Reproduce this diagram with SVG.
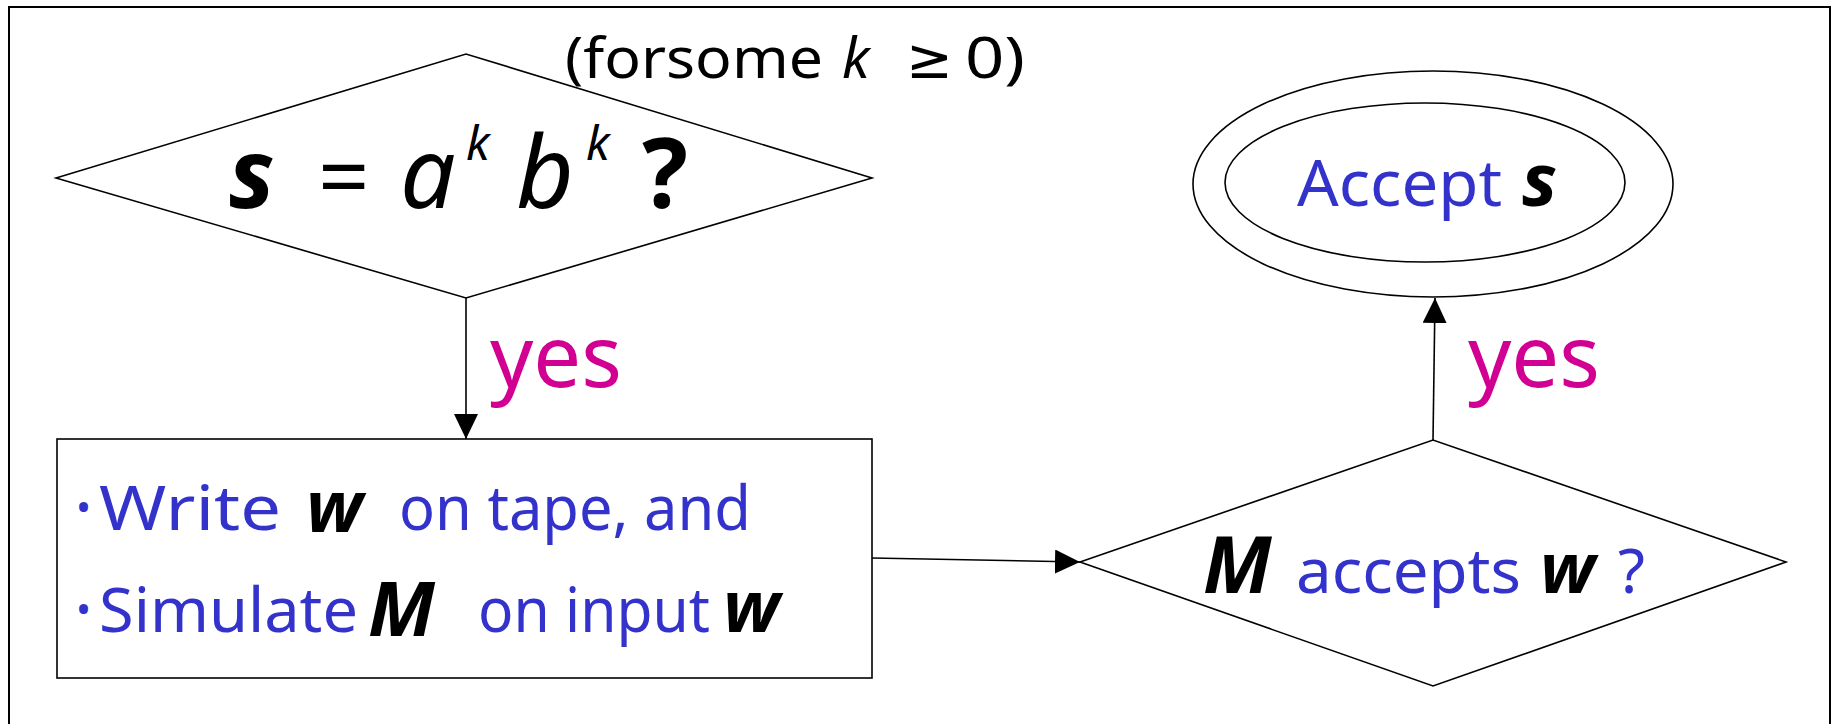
<svg xmlns="http://www.w3.org/2000/svg" width="1839" height="724" viewBox="0 0 1839 724">
<style>
.shape{fill:#fff;stroke:#000;stroke-width:1.6}
.edge{fill:none;stroke:#000;stroke-width:1.6}
.t{font-family:"Noto Sans","DejaVu Sans",sans-serif}
.blue{fill:#3333CC}
.mag{fill:#D10092}
.var{font-style:italic;font-weight:bold;fill:#000}
.ivar{font-style:italic;font-weight:normal;fill:#000}
</style>
<defs>
<marker id="arr" markerUnits="userSpaceOnUse" markerWidth="26" markerHeight="26" refX="25" refY="12" orient="auto">
<path d="M0,0 L25,12 L0,24 Z" fill="#000"/>
</marker>
</defs>
<rect x="9" y="7" width="1821" height="730" fill="none" stroke="#000" stroke-width="2"/>
<text class="t" x="565" y="78" font-size="56" fill="#000"><tspan textLength="258" lengthAdjust="spacingAndGlyphs">(forsome</tspan><tspan x="842" font-style="italic">k</tspan><tspan x="906">≥</tspan><tspan x="965" textLength="60" lengthAdjust="spacingAndGlyphs">0)</tspan></text>
<g id="decision1">
<polygon class="shape" points="56,178 466,54 872,178 466,298"/>
<text class="t var" x="229" y="208" font-size="96">s</text>
<text class="t" x="318" y="208" font-size="90" fill="#000">=</text>
<text class="t ivar" x="400" y="208" font-size="98">a</text>
<text class="t ivar" x="466" y="160" font-size="48">k</text>
<text class="t ivar" x="516" y="208" font-size="100">b</text>
<text class="t ivar" x="586" y="160" font-size="48">k</text>
<text class="t" x="642" y="208" font-size="96" font-weight="bold" fill="#000">?</text>
</g>
<g id="process">
<rect class="shape" x="57" y="439" width="815" height="239" stroke-width="2"/>
<text class="t blue" x="76" y="522" font-size="40">•</text>
<text class="t blue" x="99" y="530" font-size="62" textLength="182" lengthAdjust="spacingAndGlyphs">Write</text>
<text class="t var" x="306" y="532" font-size="72">w</text>
<text class="t blue" x="399" y="530" font-size="62" textLength="352" lengthAdjust="spacingAndGlyphs">on tape, and</text>
<text class="t blue" x="76" y="624" font-size="40">•</text>
<text class="t blue" x="99" y="632" font-size="62" textLength="259" lengthAdjust="spacingAndGlyphs">Simulate</text>
<text class="t var" x="368" y="636" font-size="76">M</text>
<text class="t blue" x="478" y="632" font-size="62" textLength="232" lengthAdjust="spacingAndGlyphs">on input</text>
<text class="t var" x="723" y="632" font-size="72">w</text>
</g>
<g id="decision2">
<polygon class="shape" points="1080,562 1433,440 1786,562 1433,686"/>
<text class="t var" x="1203" y="593" font-size="78">M</text>
<text class="t blue" x="1296" y="593" font-size="62" textLength="225" lengthAdjust="spacingAndGlyphs">accepts</text>
<text class="t var" x="1540" y="593" font-size="70">w</text>
<text class="t blue" x="1618" y="593" font-size="62">?</text>
</g>
<g id="accept">
<ellipse class="shape" cx="1433" cy="184" rx="240" ry="113"/>
<ellipse class="shape" cx="1425" cy="182.5" rx="200" ry="79.5"/>
<text class="t blue" x="1297" y="206" font-size="64" textLength="205" lengthAdjust="spacingAndGlyphs">Accept</text>
<text class="t var" x="1522" y="206" font-size="74">s</text>
</g>
<g id="connectors">
<line class="edge" x1="466" y1="298" x2="466" y2="439" marker-end="url(#arr)"/>
<line class="edge" x1="872" y1="558" x2="1080" y2="562" marker-end="url(#arr)"/>
<line class="edge" x1="1433" y1="440" x2="1435" y2="298" marker-end="url(#arr)"/>
<text class="t mag" x="490" y="387" font-size="86" textLength="132" lengthAdjust="spacingAndGlyphs">yes</text>
<text class="t mag" x="1468" y="387" font-size="86" textLength="132" lengthAdjust="spacingAndGlyphs">yes</text>
</g>
</svg>
